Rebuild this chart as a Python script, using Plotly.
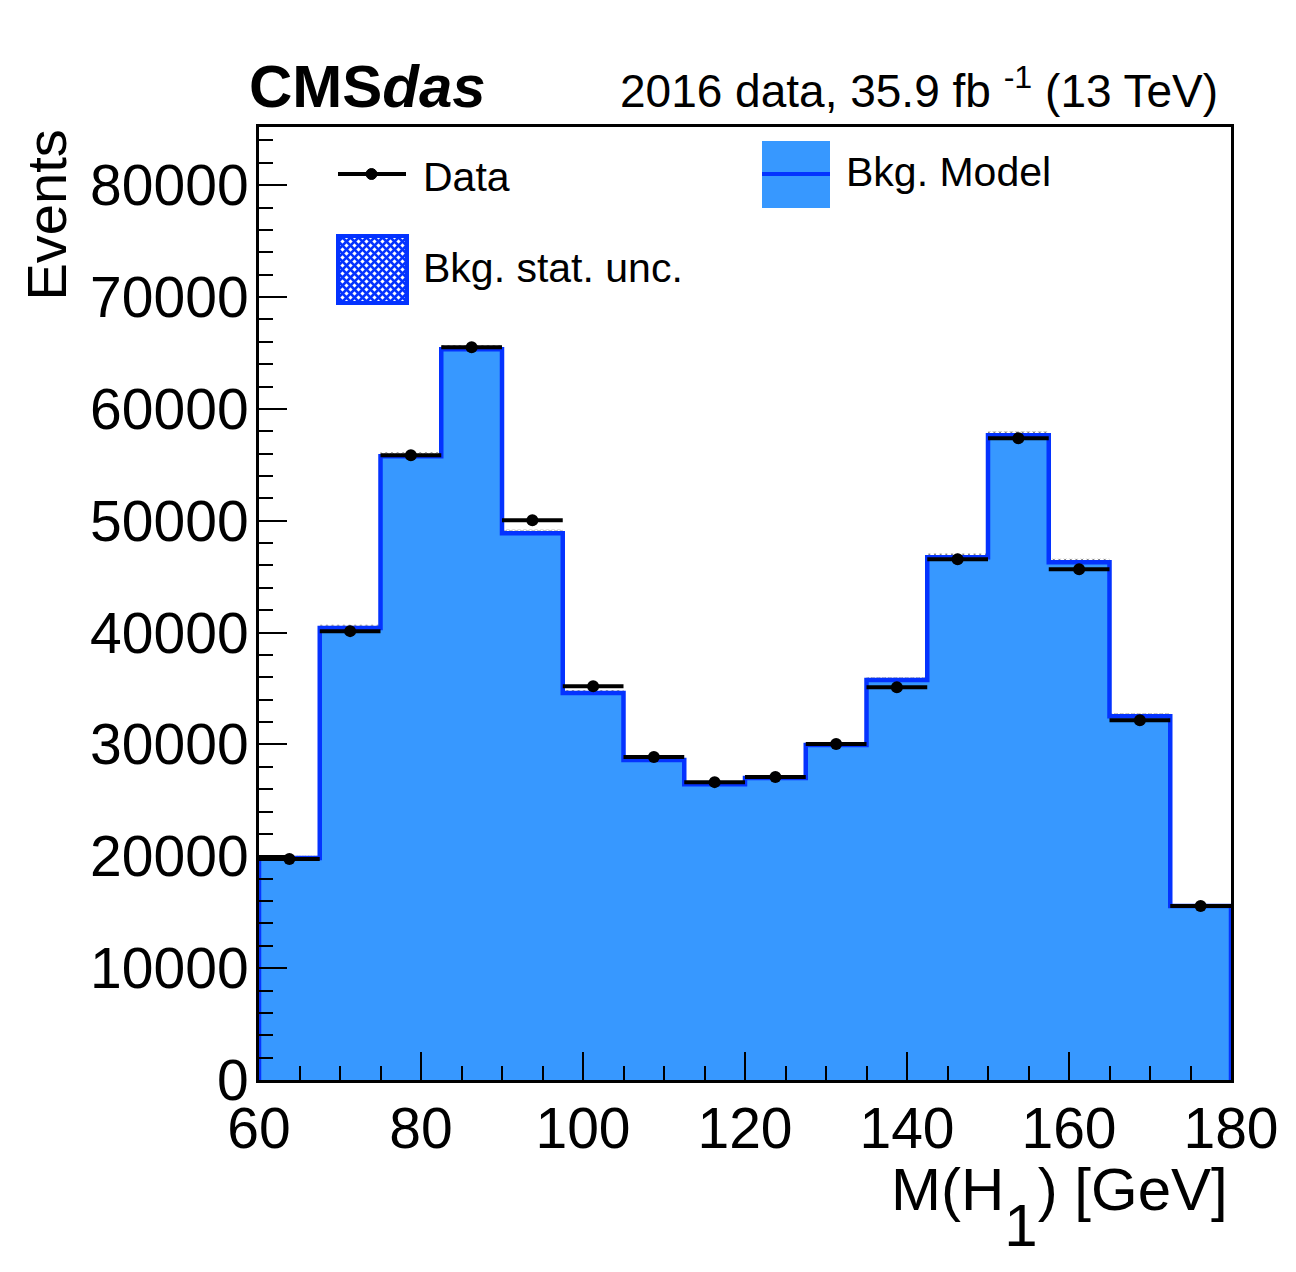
#!/usr/bin/env python
# coding: utf-8

# Histograma M(H1): dados vs modelo de fundo, estilo CMS/ROOT
import numpy as np
import plotly.graph_objects as go

# bordas dos bins (GeV)
bin_edges = [60, 67.5, 75, 82.5, 90, 97.5, 105, 112.5, 120,
             127.5, 135, 142.5, 150, 157.5, 165, 172.5, 180]
# modelo de fundo (Bkg. Model)
bkg = [19850, 40400, 55770, 65330, 48890, 34590, 28600, 26450,
       26990, 29940, 35750, 46740, 57640, 46290, 32530, 15550]
# incerteza estatistica do fundo
bkg_unc = [200, 300, 350, 380, 330, 280, 250, 240,
           240, 260, 280, 330, 360, 320, 270, 190]
# dados
data = [19750, 40130, 55860, 65510, 50050, 35210, 28870, 26630,
        27080, 30030, 35120, 46560, 57380, 45670, 32170, 15550]

edges = np.array(bin_edges)
centros = 0.5 * (edges[:-1] + edges[1:])
meia_largura = 0.5 * (edges[1:] - edges[:-1])

FONTE = "Liberation Sans, Arial, Helvetica, sans-serif"
AZUL_FILL = "#3798FF"
AZUL_LINHA = "#0433FF"

# geometria em pixels (janela 1296x1272)
W, H = 1296, 1272
X0, X1 = 259, 1231
Y0, Y1 = 127, 1080


def px(x):
    return (x - X0) / (X1 - X0)


def py(y):
    return (Y1 - y) / (Y1 - Y0)


fig = go.Figure()

# fundo como histograma em degraus
x_step = [edges[0]] + list(edges) + [edges[-1]]
y_step = [0] + bkg + [bkg[-1], 0]
fig.add_trace(go.Scatter(x=x_step, y=y_step, mode='lines', line_shape='hv',
                         fill='tozeroy', fillcolor=AZUL_FILL,
                         line=dict(color=AZUL_LINHA, width=4.5),
                         showlegend=False, hoverinfo='skip'))

# banda de incerteza (hachurada)
fig.add_trace(go.Bar(x=centros, base=np.array(bkg) - np.array(bkg_unc),
                     y=2 * np.array(bkg_unc), width=2 * meia_largura,
                     marker=dict(color='rgba(0,0,0,0)', line_width=0,
                                 pattern=dict(shape='x', fgcolor='black',
                                              bgcolor='rgba(0,0,0,0)',
                                              size=4, solidity=0.4)),
                     showlegend=False, hoverinfo='skip'))

# dados
fig.add_trace(go.Scatter(x=centros, y=data, mode='markers',
                         marker=dict(color='black', size=12),
                         error_x=dict(type='data', array=meia_largura,
                                      color='black', thickness=4, width=0),
                         showlegend=False))

# legenda desenhada a mao
shapes = []
annots = []
# Data
shapes.append(dict(type='line', xref='paper', yref='paper',
                   x0=px(338), x1=px(406), y0=py(174), y1=py(174),
                   line=dict(color='black', width=4)))
shapes.append(dict(type='circle', xref='paper', yref='paper',
                   x0=px(366), x1=px(377), y0=py(168.5), y1=py(179.5),
                   fillcolor='black', line=dict(color='black', width=1)))
annots.append(dict(text='Data', x=px(421), y=py(177)))
# Bkg. stat. unc. (caixa hachurada)
bx0, bx1, by0, by1 = 338, 407, 236, 303
shapes.append(dict(type='rect', xref='paper', yref='paper',
                   x0=px(bx0), x1=px(bx1), y0=py(by1), y1=py(by0),
                   fillcolor='white', line=dict(color=AZUL_LINHA, width=4)))
passo = 8
for k in range(-(by1 - by0), bx1 - bx0, passo):
    # diagonais "/" e "\" recortadas na caixa
    for sinal in (1, -1):
        a0 = max(0, -k)
        a1 = min(bx1 - bx0, (by1 - by0) - k)
        if a1 <= a0:
            continue
        if sinal == 1:
            xa, ya, xb, yb = bx0 + a0, by1 - (a0 + k), bx0 + a1, by1 - (a1 + k)
        else:
            xa, ya, xb, yb = bx0 + a0, by0 + (a0 + k), bx0 + a1, by0 + (a1 + k)
        shapes.append(dict(type='line', xref='paper', yref='paper',
                           x0=px(xa), x1=px(xb), y0=py(ya), y1=py(yb),
                           line=dict(color=AZUL_LINHA, width=2.5)))
annots.append(dict(text='Bkg. stat. unc.', x=px(421), y=py(268)))
# Bkg. Model
shapes.append(dict(type='rect', xref='paper', yref='paper',
                   x0=px(762), x1=px(830), y0=py(208), y1=py(141),
                   fillcolor=AZUL_FILL, line_width=0))
shapes.append(dict(type='line', xref='paper', yref='paper',
                   x0=px(762), x1=px(830), y0=py(174), y1=py(174),
                   line=dict(color=AZUL_LINHA, width=4)))
annots.append(dict(text='Bkg. Model', x=px(844), y=py(172)))

for a in annots:
    a.update(xref='paper', yref='paper', xanchor='left', yanchor='middle',
             showarrow=False, font=dict(family=FONTE, size=41, color='black'))

# textos CMS e luminosidade
annots.append(dict(text='<b>CMS</b><b><i>das</i></b>', xref='paper', yref='paper',
                   x=px(247), y=py(86), xanchor='left', yanchor='middle',
                   showarrow=False, font=dict(family=FONTE, size=60, color='black')))
annots.append(dict(text='2016 data, 35.9 fb <sup>-1</sup> (13 TeV)', xref='paper', yref='paper',
                   x=px(1220), y=py(88), xanchor='right', yanchor='middle',
                   showarrow=False, font=dict(family=FONTE, size=46, color='black')))
# titulos dos eixos
annots.append(dict(text='Events', xref='paper', yref='paper', textangle=-90,
                   x=px(46), y=py(128), xanchor='center', yanchor='top',
                   showarrow=False, font=dict(family=FONTE, size=56, color='black')))
annots.append(dict(text="M(H<span style='baseline-shift:-0.6em'>1</span>) [GeV]",
                   xref='paper', yref='paper',
                   x=px(1230), y=py(1207), xanchor='right', yanchor='middle',
                   showarrow=False, font=dict(family=FONTE, size=60, color='black')))

fig.update_xaxes(range=[60, 180], dtick=20, tick0=60, ticks='inside', ticklen=28,
                 tickwidth=1.5, tickcolor='black', showgrid=False, zeroline=False,
                 showline=True, linecolor='black', linewidth=3, mirror=True,
                 ticklabelstandoff=-3,
                 minor=dict(dtick=5, ticks='inside', ticklen=14, tickwidth=1.5,
                            tickcolor='black', showgrid=False),
                 tickfont=dict(family=FONTE, size=57, color='black'))
fig.update_yaxes(range=[0, 85200], dtick=10000, ticks='inside', ticklen=28,
                 tickwidth=1.5, tickcolor='black', showgrid=False, zeroline=False,
                 showline=True, linecolor='black', linewidth=3, mirror=True,
                 ticklabelstandoff=-4, tickformat='d',
                 minor=dict(dtick=2000, ticks='inside', ticklen=14, tickwidth=1.5,
                            tickcolor='black', showgrid=False),
                 tickfont=dict(family=FONTE, size=57, color='black'))
fig.update_layout(width=W, height=H, autosize=False,
                  margin=dict(l=X0, r=W - X1, t=Y0, b=H - Y1, pad=0),
                  paper_bgcolor='white', plot_bgcolor='white',
                  barmode='overlay', showlegend=False,
                  shapes=shapes, annotations=annots)
# sem margem no body da pagina, sem barra de ferramentas
fig.write_html("out.html", config={'displayModeBar': False},
               post_script="document.body.style.margin='0px';")
